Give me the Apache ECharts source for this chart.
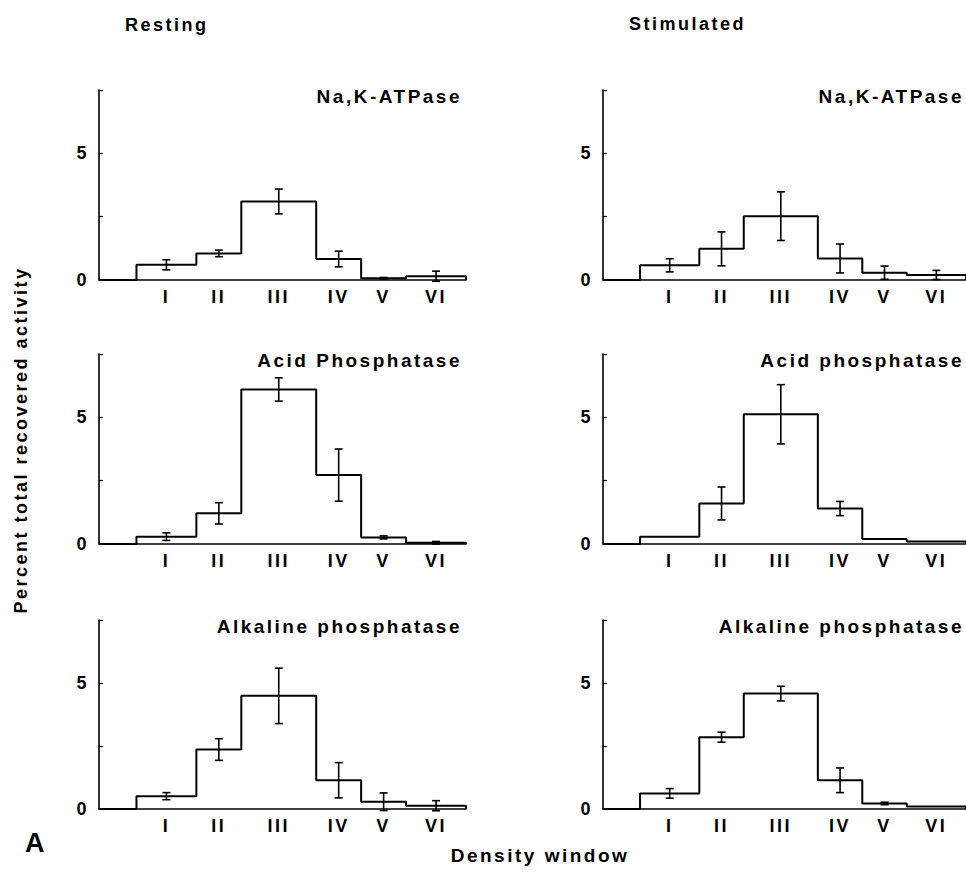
<!DOCTYPE html>
<html>
<head>
<meta charset="utf-8">
<script src="https://cdn.jsdelivr.net/npm/echarts@6/dist/echarts.min.js"></script>
<style>
  html, body { margin: 0; padding: 0; background: #fff; }
  #chart { width: 966px; height: 882px; }
  /* the original lettering is widely tracked */
  #chart text { letter-spacing: 2.5px; }
</style>
</head>
<body>
<div id="chart"></div>
<script>
// density windows and the bin edges (arbitrary density units along the x axis)
var windows = ['I', 'II', 'III', 'IV', 'V', 'VI'];
var binEdges = [0.5, 1.3, 1.9, 2.9, 3.5, 4.1, 4.9];
var yTicks = [0, 5];

// percent of total recovered activity per window, with error half-widths
var restNaK = [0.6, 1.05, 3.1, 0.83, 0.07, 0.15];
var restNaKErr = [0.2, 0.13, 0.49, 0.31, 0.03, 0.2];
var restAcid = [0.29, 1.21, 6.1, 2.72, 0.26, 0.05];
var restAcidErr = [0.15, 0.42, 0.46, 1.03, 0.06, 0.05];
var restAlk = [0.51, 2.36, 4.49, 1.14, 0.29, 0.13];
var restAlkErr = [0.14, 0.43, 1.1, 0.7, 0.35, 0.2];

var stimNaK = [0.58, 1.23, 2.52, 0.85, 0.29, 0.2];
var stimNaKErr = [0.26, 0.67, 0.96, 0.57, 0.26, 0.18];
var stimAcid = [0.29, 1.6, 5.12, 1.4, 0.2, 0.1];
var stimAcidErr = [null, 0.65, 1.17, 0.28, null, null];
var stimAlk = [0.62, 2.85, 4.58, 1.14, 0.22, 0.1];
var stimAlkErr = [0.19, 0.2, 0.29, 0.49, 0.05, null];

var panels = [
  { title: 'Na,K-ATPase', values: restNaK, errs: restNaKErr, col: 0, row: 0 },
  { title: 'Acid Phosphatase', values: restAcid, errs: restAcidErr, col: 0, row: 1 },
  { title: 'Alkaline phosphatase', values: restAlk, errs: restAlkErr, col: 0, row: 2 },
  { title: 'Na,K-ATPase', values: stimNaK, errs: stimNaKErr, col: 1, row: 0 },
  { title: 'Acid phosphatase', values: stimAcid, errs: stimAcidErr, col: 1, row: 1 },
  { title: 'Alkaline phosphatase', values: stimAlk, errs: stimAlkErr, col: 1, row: 2 }
];

var FONT = "'Liberation Sans', Arial, sans-serif";
var colLeft = [99, 603];
var rowTop = [90, 354, 620];
var rowHeight = [190, 190, 189];
var plotWidth = 367;
var xMax = binEdges[binEdges.length - 1];

var centers = [];
for (var i = 0; i < windows.length; i++) {
  centers.push((binEdges[i] + binEdges[i + 1]) / 2);
}

function windowLabel(v) {
  var best = 0;
  for (var i = 1; i < centers.length; i++) {
    if (Math.abs(centers[i] - v) < Math.abs(centers[best] - v)) best = i;
  }
  return windows[best];
}

function stepData(values) {
  var d = [[0, 0]];
  for (var i = 0; i < values.length; i++) d.push([binEdges[i], values[i]]);
  d.push([xMax, values[values.length - 1]]);
  d.push([xMax, 0]);
  return d;
}

function errData(values, errs) {
  var d = [];
  for (var i = 0; i < values.length; i++) {
    if (errs[i] == null) continue;
    d.push([centers[i], values[i] - errs[i], values[i] + errs[i]]);
  }
  return d;
}

function renderErr(params, api) {
  var x = api.value(0);
  var lo = api.coord([x, api.value(1)]);
  var hi = api.coord([x, api.value(2)]);
  var cap = 4;
  var st = { stroke: '#000', lineWidth: 1.6 };
  return {
    type: 'group',
    children: [
      { type: 'line', shape: { x1: hi[0], y1: hi[1], x2: lo[0], y2: lo[1] }, style: st },
      { type: 'line', shape: { x1: hi[0] - cap, y1: hi[1], x2: hi[0] + cap, y2: hi[1] }, style: st },
      { type: 'line', shape: { x1: lo[0] - cap, y1: lo[1], x2: lo[0] + cap, y2: lo[1] }, style: st }
    ]
  };
}

var grids = [], xAxes = [], yAxes = [], series = [], texts = [];

panels.forEach(function (p, k) {
  grids.push({ left: colLeft[p.col], top: rowTop[p.row], width: plotWidth, height: rowHeight[p.row] });
  xAxes.push({
    type: 'value', gridIndex: k, min: 0, max: xMax,
    axisLine: { show: true, lineStyle: { color: '#000', width: 1.6 } },
    axisTick: { show: false },
    splitLine: { show: false },
    axisLabel: {
      customValues: centers,
      formatter: windowLabel,
      color: '#000', fontSize: 18, fontWeight: 'bold', fontFamily: FONT, margin: 8
    }
  });
  yAxes.push({
    type: 'value', gridIndex: k, min: 0, max: 7.5, interval: 2.5,
    axisLine: { show: true, lineStyle: { color: '#000', width: 1.6 } },
    axisTick: { show: true, inside: true, length: 4, lineStyle: { color: '#000', width: 1.2 } },
    splitLine: { show: false },
    axisLabel: {
      formatter: function (v) { return yTicks.indexOf(v) >= 0 ? String(v) : ''; },
      color: '#000', fontSize: 18, fontWeight: 'bold', fontFamily: FONT, margin: 10
    }
  });
  series.push({
    type: 'line', xAxisIndex: k, yAxisIndex: k, step: 'end', symbol: 'none',
    lineStyle: { color: '#000', width: 2 },
    data: stepData(p.values)
  });
  series.push({
    type: 'custom', xAxisIndex: k, yAxisIndex: k, renderItem: renderErr,
    encode: { x: 0, y: [1, 2] }, clip: false,
    data: errData(p.values, p.errs)
  });
  texts.push({
    type: 'text',
    x: colLeft[p.col] + plotWidth - (p.col === 0 ? 4 : 6),
    y: rowTop[p.row] + 6,
    style: { text: p.title, fill: '#000', font: 'bold 19px ' + FONT, textAlign: 'right', textVerticalAlign: 'middle' }
  });
});

texts.push(
  { type: 'text', x: 125, y: 25, style: { text: 'Resting', fill: '#000', font: 'bold 18px ' + FONT, textAlign: 'left', textVerticalAlign: 'middle' } },
  { type: 'text', x: 629, y: 24, style: { text: 'Stimulated', fill: '#000', font: 'bold 18px ' + FONT, textAlign: 'left', textVerticalAlign: 'middle' } },
  { type: 'text', x: 21, y: 440, rotation: Math.PI / 2,
    style: { text: 'Percent total recovered activity', fill: '#000', font: 'bold 18px ' + FONT, textAlign: 'center', textVerticalAlign: 'middle' } },
  { type: 'text', x: 540, y: 855, style: { text: 'Density window', fill: '#000', font: 'bold 19px ' + FONT, textAlign: 'center', textVerticalAlign: 'middle' } },
  { type: 'text', x: 25, y: 843, style: { text: 'A', fill: '#000', font: 'bold 27px ' + FONT, textAlign: 'left', textVerticalAlign: 'middle' } }
);

var chart = echarts.init(document.getElementById('chart'), null, { renderer: 'svg' });
chart.setOption({
  backgroundColor: '#fff',
  animation: false,
  grid: grids,
  xAxis: xAxes,
  yAxis: yAxes,
  series: series,
  graphic: texts
});
</script>
</body>
</html>
